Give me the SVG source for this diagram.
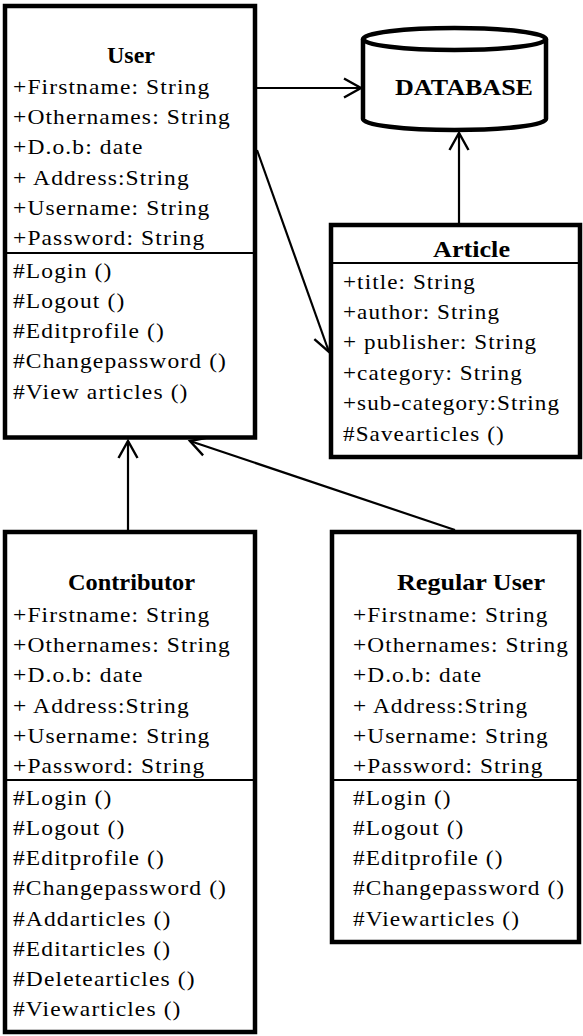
<svg xmlns="http://www.w3.org/2000/svg" width="583" height="1036" viewBox="0 0 583 1036">
  <style>
    .box { fill: #ffffff; stroke: #000000; stroke-width: 4.5; }
    .div { stroke: #000000; stroke-width: 2; fill: none; }
    .title { font-family: "Liberation Serif", "Times New Roman", serif; font-size: 24px; font-weight: bold; fill: #000000; }
    .row { font-family: "Liberation Serif", "Times New Roman", serif; font-size: 21px; letter-spacing: 1px; fill: #000000; }
    .link { stroke: #000000; stroke-width: 2.2; fill: none; marker-end: url(#open); }
  </style>
  <defs>
    <marker id="open" markerUnits="userSpaceOnUse" markerWidth="24" markerHeight="24" viewBox="-20 -12 24 24" refX="0" refY="0" orient="auto" overflow="visible">
      <path d="M-17,-9.5 L0,0 L-17,9.5" fill="none" stroke="#000000" stroke-width="2.4"/>
    </marker>
  </defs>

  <!-- connectors -->
  <g id="connectors">
    <line class="link" x1="257" y1="88" x2="361" y2="88"/>
    <line class="link" x1="459" y1="223" x2="459" y2="133"/>
    <line class="link" x1="257" y1="150" x2="329" y2="352"/>
    <line class="link" x1="128" y1="530" x2="128" y2="441"/>
    <line class="link" x1="455" y1="530" x2="190" y2="441"/>
  </g>

  <!-- database cylinder -->
  <g id="database">
    <path class="box" d="M363,39 L363,119 A91.5,11 0 0 0 546,119 L546,39"/>
    <ellipse class="box" cx="454.5" cy="39" rx="91.5" ry="11"/>
    <text class="title" x="395" y="95" textLength="138" lengthAdjust="spacingAndGlyphs">DATABASE</text>
  </g>

  <!-- User class -->
  <g id="user">
    <rect class="box" x="5" y="6" width="250" height="431.5"/>
    <line class="div" x1="5" y1="253" x2="255" y2="253"/>
    <text class="title" x="107" y="63" textLength="48" lengthAdjust="spacingAndGlyphs">User</text>
    <g transform="translate(13 0) scale(1.12 1)">
      <text class="row" x="0" y="94">+Firstname: String</text>
      <text class="row" x="0" y="124">+Othernames: String</text>
      <text class="row" x="0" y="154">+D.o.b: date</text>
      <text class="row" x="0" y="185">+ Address:String</text>
      <text class="row" x="0" y="215">+Username: String</text>
      <text class="row" x="0" y="245">+Password: String</text>
      <text class="row" x="0" y="278">#Login ()</text>
      <text class="row" x="0" y="308">#Logout ()</text>
      <text class="row" x="0" y="338">#Editprofile ()</text>
      <text class="row" x="0" y="368">#Changepassword ()</text>
      <text class="row" x="0" y="399">#View articles ()</text>
    </g>
  </g>

  <!-- Article class -->
  <g id="article">
    <rect class="box" x="331" y="225" width="249" height="232"/>
    <line class="div" x1="331" y1="263" x2="580" y2="263"/>
    <text class="title" x="433" y="257" textLength="77" lengthAdjust="spacingAndGlyphs">Article</text>
    <g transform="translate(343 0) scale(1.1 1)">
      <text class="row" x="0" y="289">+title: String</text>
      <text class="row" x="0" y="319">+author: String</text>
      <text class="row" x="0" y="349">+ publisher: String</text>
      <text class="row" x="0" y="380">+category: String</text>
      <text class="row" x="0" y="410">+sub-category:String</text>
      <text class="row" x="0" y="441">#Savearticles ()</text>
    </g>
  </g>

  <!-- Contributor class -->
  <g id="contributor">
    <rect class="box" x="5" y="532" width="250" height="500"/>
    <line class="div" x1="5" y1="780" x2="255" y2="780"/>
    <text class="title" x="68" y="590" textLength="127" lengthAdjust="spacingAndGlyphs">Contributor</text>
    <g transform="translate(13 0) scale(1.12 1)">
      <text class="row" x="0" y="622">+Firstname: String</text>
      <text class="row" x="0" y="652">+Othernames: String</text>
      <text class="row" x="0" y="682">+D.o.b: date</text>
      <text class="row" x="0" y="713">+ Address:String</text>
      <text class="row" x="0" y="743">+Username: String</text>
      <text class="row" x="0" y="773">+Password: String</text>
      <text class="row" x="0" y="805">#Login ()</text>
      <text class="row" x="0" y="835">#Logout ()</text>
      <text class="row" x="0" y="865">#Editprofile ()</text>
      <text class="row" x="0" y="895">#Changepassword ()</text>
      <text class="row" x="0" y="926">#Addarticles ()</text>
      <text class="row" x="0" y="956">#Editarticles ()</text>
      <text class="row" x="0" y="986">#Deletearticles ()</text>
      <text class="row" x="0" y="1016">#Viewarticles ()</text>
    </g>
  </g>

  <!-- Regular User class -->
  <g id="regular-user">
    <rect class="box" x="332" y="532" width="247" height="410"/>
    <line class="div" x1="332" y1="780" x2="579" y2="780"/>
    <text class="title" x="397" y="590" textLength="148" lengthAdjust="spacingAndGlyphs">Regular User</text>
    <g transform="translate(353 0) scale(1.11 1)">
      <text class="row" x="0" y="622">+Firstname: String</text>
      <text class="row" x="0" y="652">+Othernames: String</text>
      <text class="row" x="0" y="682">+D.o.b: date</text>
      <text class="row" x="0" y="713">+ Address:String</text>
      <text class="row" x="0" y="743">+Username: String</text>
      <text class="row" x="0" y="773">+Password: String</text>
      <text class="row" x="0" y="805">#Login ()</text>
      <text class="row" x="0" y="835">#Logout ()</text>
      <text class="row" x="0" y="865">#Editprofile ()</text>
      <text class="row" x="0" y="895">#Changepassword ()</text>
      <text class="row" x="0" y="926">#Viewarticles ()</text>
    </g>
  </g>
</svg>
